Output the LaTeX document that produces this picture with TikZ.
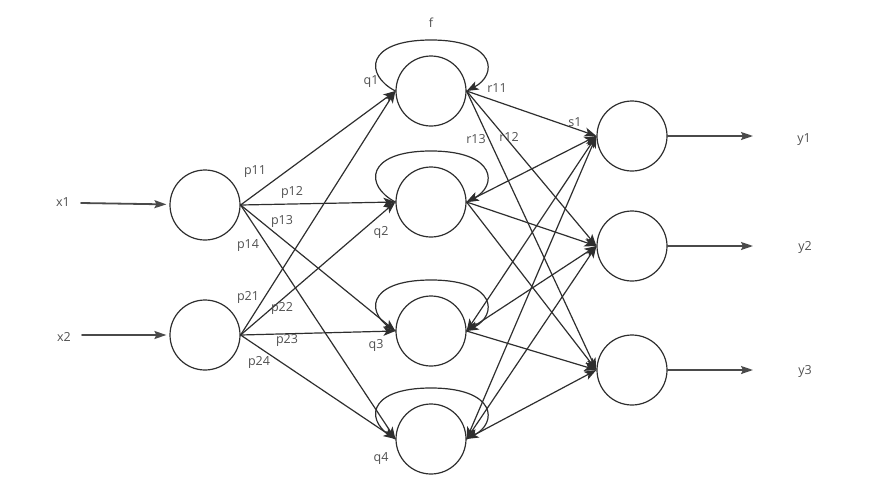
\documentclass[tikz,border=0pt]{standalone}
\usepackage{fontspec}
\setmainfont{Open Sans}
\usepackage{tikz}
\usetikzlibrary{arrows.meta,calc}
\usepackage{xcolor}
\definecolor{edgeink}{HTML}{2E2E2E}
\definecolor{ioink}{HTML}{4A4A4A}
\definecolor{labelink}{HTML}{505050}
\tikzset{
  neuron/.style={circle,draw=edgeink,line width=1.2pt,minimum size=70pt,inner sep=0pt},
  link/.style={draw=edgeink,line width=1.2pt,-{Stealth[length=12pt,width=9pt,inset=3pt]}},
  twoway/.style={link,{Stealth[length=12pt,width=9pt,inset=3pt]}-{Stealth[length=12pt,width=9pt,inset=3pt]}},
  io link/.style={draw=ioink,line width=1.8pt,-{Stealth[length=12pt,width=8pt,inset=2pt]}},
  weight label/.style={font=\fontsize{12.5}{14}\selectfont,text=labelink,inner sep=1pt}
}
\newcommand{\SelfLoop}[1]{\draw[link] (#1.west) .. controls +(-31,-16) and +(-66,0) .. ($(#1)+(0,-51)$) .. controls +(66,0) and +(31,-16) .. (#1.east);}

\begin{document}
\begin{tikzpicture}[x=1pt,y=-1pt,line cap=round,line join=round]
  \useasboundingbox (0,0) rectangle (886,485);

  % layers
  \node[neuron] (i1) at (205,205) {};
  \node[neuron] (i2) at (205,335) {};
  \node[neuron] (q1) at (431, 91) {};
  \node[neuron] (q2) at (431,202) {};
  \node[neuron] (q3) at (431,331) {};
  \node[neuron] (q4) at (431,439) {};
  \node[neuron] (o1) at (632,136) {};
  \node[neuron] (o2) at (632,246) {};
  \node[neuron] (o3) at (632,370) {};

  \coordinate (x1s) at ( 81,203);
  \coordinate (x2s) at ( 82,335);
  \coordinate (y1e) at (753,136);
  \coordinate (y2e) at (753,246);
  \coordinate (y3e) at (753,370);

  % inputs and outputs
  \draw[io link,shorten >=3pt] (x1s) -- (i1);
  \draw[io link,shorten >=3pt] (x2s) -- (i2);
  \draw[io link] (o1) -- (y1e);
  \draw[io link] (o2) -- (y2e);
  \draw[io link] (o3) -- (y3e);

  % input -> hidden
  \foreach \i in {i1,i2} {
    \foreach \q in {q1,q2,q3,q4} {\draw[link] (\i.east) -- (\q.west);}
  }

  % feedback loops
  \foreach \q in {q1,q2,q3,q4} {\SelfLoop{\q}}

  % hidden -> output
  \draw[link] (q1.east) -- (o1.west);
  \foreach \q in {q2,q3,q4} {\draw[twoway] (\q.east) -- (o1.west);}
  \foreach \q in {q1,q2,q3,q4} {
    \draw[link] (\q.east) -- (o2.west);
    \draw[link] (\q.east) -- (o3.west);
  }

  \node[weight label] (lx1) at ( 63,202) {x1};
  \node[weight label] (lx2) at ( 64,337) {x2};
  \node[weight label] (ly1) at (804,140) {y1};
  \node[weight label] (ly2) at (805,247) {y2};
  \node[weight label] (ly3) at (805,371) {y3};
  \node[weight label] (lf)  at (431, 23) {f};
  \node[weight label] (lq1) at (371, 82) {q1};
  \node[weight label] (lq2) at (381,232) {q2};
  \node[weight label] (lq3) at (376,345) {q3};
  \node[weight label] (lq4) at (381,459) {q4};
  \node[weight label] (lp11) at (255,172) {p11};
  \node[weight label] (lp12) at (292,192) {p12};
  \node[weight label] (lp13) at (282,221) {p13};
  \node[weight label] (lp14) at (248,246) {p14};
  \node[weight label] (lp21) at (248,297) {p21};
  \node[weight label] (lp22) at (282,308) {p22};
  \node[weight label] (lp23) at (287,340) {p23};
  \node[weight label] (lp24) at (259,362) {p24};
  \node[weight label] (lr11) at (497, 88) {r11};
  \node[weight label] (lr12) at (509,137) {r12};
  \node[weight label] (lr13) at (476,139) {r13};
  \node[weight label] (ls1)  at (575,122) {s1};
\end{tikzpicture}
\end{document}
